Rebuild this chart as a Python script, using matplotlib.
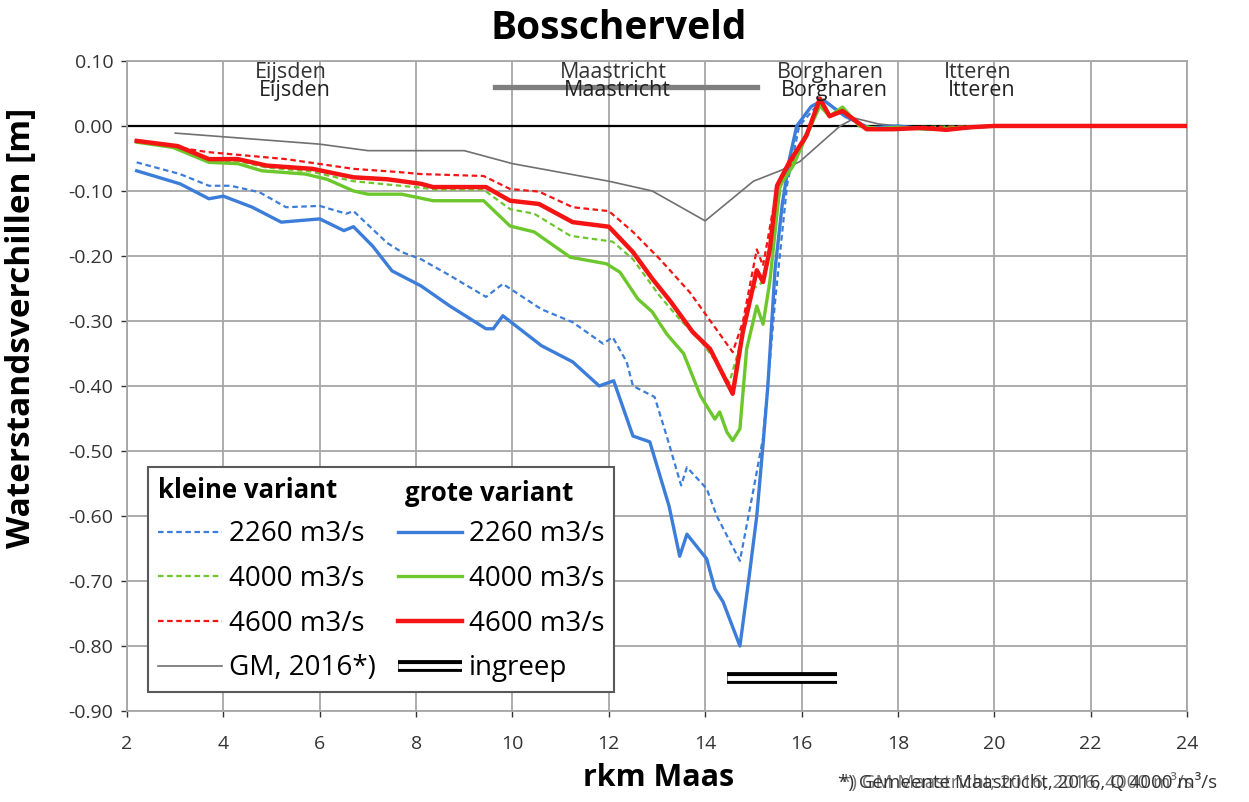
import matplotlib
matplotlib.use("Agg")
import matplotlib.pyplot as plt
import matplotlib.patheffects as pe
from matplotlib.lines import Line2D

plt.rcParams['font.family'] = ['Open Sans', 'DejaVu Sans']

# kleine variant (dashed) / grote variant (solid), rkm Maas vs waterstandsverschil [m]
blue_solid_x = [2.2, 3.1, 3.7, 4.0, 4.6, 5.2, 6.0, 6.5, 6.7, 7.1, 7.5, 8.1, 8.7, 9.45, 9.6, 9.8, 10.6, 11.25,
                11.8, 12.1, 12.5, 12.85, 13.25, 13.47, 13.62, 14.03, 14.2, 14.37, 14.72, 14.9, 15.07, 15.2,
                15.3, 15.45, 15.6, 15.75, 15.9, 16.2, 16.45, 16.9, 17.4, 18.0, 18.6, 19.2, 20.0, 22.0, 24.0]
blue_solid_y = [-0.069, -0.089, -0.112, -0.108, -0.125, -0.148, -0.143, -0.161, -0.155, -0.185, -0.223, -0.246,
                -0.277, -0.312, -0.312, -0.292, -0.338, -0.363, -0.400, -0.392, -0.477, -0.486, -0.585, -0.662,
                -0.628, -0.666, -0.712, -0.732, -0.800, -0.700, -0.600, -0.490, -0.400, -0.220, -0.120, -0.050,
                0.000, 0.030, 0.040, 0.015, -0.003, 0.0, -0.005, -0.004, 0.0, 0.0, 0.0]

blue_dash_x = [2.2, 3.1, 3.7, 4.15, 4.75, 5.3, 6.0, 6.55, 6.7, 7.4, 7.7, 8.1, 8.7, 9.45, 9.8, 10.6, 11.25, 11.88,
               12.08, 12.37, 12.5, 12.95, 13.2, 13.5, 13.62, 14.03, 14.24, 14.72, 15.0, 15.2, 15.45, 15.7, 15.95,
               16.3, 16.5, 16.9, 17.4, 18.0, 18.6, 19.2, 20.0, 24.0]
blue_dash_y = [-0.056, -0.074, -0.092, -0.092, -0.102, -0.125, -0.123, -0.135, -0.131, -0.180, -0.194, -0.205,
               -0.230, -0.263, -0.243, -0.282, -0.302, -0.335, -0.325, -0.363, -0.400, -0.417, -0.477, -0.553,
               -0.525, -0.558, -0.600, -0.669, -0.560, -0.480, -0.270, -0.090, 0.0, 0.030, 0.038, 0.015, -0.003,
               0.0, -0.005, -0.004, 0.0, 0.0]

green_solid_x = [2.2, 2.95, 3.7, 4.3, 4.8, 5.7, 6.15, 6.7, 7.0, 7.7, 8.35, 9.4, 9.95, 10.45, 11.2, 11.95, 12.23,
                 12.6, 12.9, 13.2, 13.55, 13.9, 14.2, 14.3, 14.45, 14.57, 14.72, 14.86, 15.07, 15.2, 15.34, 15.55,
                 15.82, 16.1, 16.38, 16.58, 16.85, 17.2, 17.6, 18.0, 18.6, 19.2, 20.0, 24.0]
green_solid_y = [-0.025, -0.033, -0.056, -0.058, -0.069, -0.074, -0.082, -0.100, -0.105, -0.105, -0.115, -0.115,
                 -0.154, -0.163, -0.202, -0.212, -0.225, -0.266, -0.286, -0.320, -0.350, -0.415, -0.451, -0.440,
                 -0.471, -0.484, -0.466, -0.343, -0.277, -0.305, -0.240, -0.092, -0.062, -0.015, 0.031, 0.015,
                 0.029, 0.0, -0.004, -0.002, -0.005, -0.003, 0.0, 0.0]

green_dash_x = [2.2, 3.0, 3.7, 4.3, 4.9, 5.8, 6.7, 7.4, 8.1, 8.4, 9.4, 9.95, 10.45, 11.2, 12.08, 12.5, 13.06, 13.5,
                13.83, 14.2, 14.5, 14.75, 15.0, 15.2, 15.4, 15.6, 15.85, 16.1, 16.4, 16.6, 16.85, 17.2, 17.6, 18.0,
                20.0, 24.0]
green_dash_y = [-0.025, -0.032, -0.053, -0.054, -0.064, -0.070, -0.085, -0.090, -0.095, -0.098, -0.098, -0.128,
                -0.135, -0.169, -0.178, -0.205, -0.262, -0.300, -0.323, -0.360, -0.395, -0.330, -0.250, -0.240,
                -0.170, -0.080, -0.050, -0.010, 0.035, 0.015, 0.025, 0.0, -0.003, -0.002, 0.0, 0.0]

red_solid_x = [2.2, 3.05, 3.7, 4.3, 4.9, 5.85, 6.7, 7.4, 8.1, 8.35, 9.45, 9.95, 10.55, 11.25, 12.0, 12.5, 12.9,
               13.27, 13.74, 14.1, 14.57, 14.78, 15.07, 15.2, 15.34, 15.49, 15.75, 16.1, 16.38, 16.58, 16.85, 17.35,
               17.9, 18.5, 19.0, 19.5, 20.0, 24.0]
red_solid_y = [-0.023, -0.031, -0.051, -0.051, -0.061, -0.066, -0.079, -0.082, -0.089, -0.094, -0.094, -0.115,
               -0.120, -0.148, -0.155, -0.194, -0.235, -0.269, -0.317, -0.343, -0.412, -0.317, -0.222, -0.240,
               -0.190, -0.092, -0.055, -0.015, 0.042, 0.015, 0.023, -0.005, -0.005, -0.003, -0.006, -0.002, 0.0, 0.0]

red_dash_x = [2.2, 3.65, 5.3, 6.7, 7.65, 8.1, 9.4, 9.95, 10.55, 11.25, 12.0, 12.5, 13.06, 13.68, 14.03, 14.57,
              14.78, 15.07, 15.2, 15.4, 15.6, 15.85, 16.1, 16.4, 16.6, 16.85, 17.3, 17.9, 20.0, 24.0]
red_dash_y = [-0.023, -0.040, -0.051, -0.066, -0.071, -0.074, -0.077, -0.097, -0.101, -0.125, -0.131, -0.163,
              -0.205, -0.256, -0.292, -0.348, -0.302, -0.190, -0.215, -0.132, -0.085, -0.050, -0.012, 0.040, 0.015,
              0.022, -0.003, -0.003, 0.0, 0.0]

gm_x = [3.0, 6.0, 7.0, 9.0, 10.0, 12.0, 12.9, 14.0, 15.0, 15.55, 15.96, 16.8, 17.1, 17.6, 18.0]
gm_y = [-0.011, -0.028, -0.038, -0.038, -0.058, -0.085, -0.100, -0.146, -0.085, -0.069, -0.055, 0.0, 0.012, 0.003, 0.0]

places = ["Eijsden", "Maastricht", "Borgharen", "Itteren"]
place_x = [5.4, 12.1, 16.6, 19.65]
maastricht_bar_x = [9.63, 15.07]
maastricht_bar_y = 0.06
ingreep_x = [14.45, 16.73]
ingreep_y = -0.849

c_blue = "#3c7dd9"
c_green = "#6cc72c"
c_red = "#f51414"

fig = plt.figure(figsize=(12.49, 8.02), dpi=100)
ax = fig.add_axes([0.1017, 0.1135, 0.8487, 0.8105])

ax.set_xlim(2, 24)
ax.set_ylim(-0.9, 0.1)
ax.set_xticks(range(2, 25, 2))
ax.set_yticks([i / 10 for i in range(-9, 2)])
ax.set_yticklabels([f"{v / 10:.2f}" for v in range(-9, 2)])
ax.grid(True, color="#a6a6a6", lw=1.3)
ax.set_axisbelow(True)
for s in ax.spines.values():
    s.set_color("#a6a6a6")
    s.set_linewidth(1.3)
ax.tick_params(axis="both", labelsize=14, colors="#333333", length=4, width=1)
ax.tick_params(axis="x", pad=13)
ax.tick_params(axis="y", pad=6)
ax.axhline(0, color="black", lw=1.6, zorder=2)

dash = (2.5, 1.6)
ax.plot(gm_x, gm_y, color="#707070", lw=1.2, zorder=3)
ax.plot(blue_dash_x, blue_dash_y, color=c_blue, lw=1.6, dashes=dash, zorder=4)
ax.plot(green_dash_x, green_dash_y, color=c_green, lw=1.6, dashes=dash, zorder=4)
ax.plot(red_dash_x, red_dash_y, color=c_red, lw=1.6, dashes=dash, zorder=4)
ax.plot(blue_solid_x, blue_solid_y, color=c_blue, lw=2.4, zorder=5)
ax.plot(green_solid_x, green_solid_y, color=c_green, lw=2.4, zorder=5)
ax.plot(red_solid_x, red_solid_y, color=c_red, lw=3.2, zorder=6)

double = [pe.Stroke(linewidth=8.5, foreground="black", capstyle="butt"),
          pe.Stroke(linewidth=3.5, foreground="white", capstyle="butt")]
ax.plot(ingreep_x, [ingreep_y, ingreep_y], color="white", lw=3.5, path_effects=double, zorder=6)
ax.plot(maastricht_bar_x, [maastricht_bar_y] * 2, color="#7f7f7f", lw=3.8, zorder=6)

for name, px in zip(places, place_x):
    ax.text(px, 0.082, name, ha="center", va="center", fontsize=15.5, color="#333333", zorder=7)
    ax.text(px + 0.08, 0.054, name, ha="center", va="center", fontsize=15.5, color="#222222", zorder=7)

handles = [
    Line2D([], [], color=c_blue, lw=1.6, dashes=dash),
    Line2D([], [], color=c_green, lw=1.6, dashes=dash),
    Line2D([], [], color=c_red, lw=1.6, dashes=dash),
    Line2D([], [], color="#707070", lw=1.2),
    Line2D([], [], color=c_blue, lw=2.4),
    Line2D([], [], color=c_green, lw=2.4),
    Line2D([], [], color=c_red, lw=3.2),
    Line2D([], [], color="white", lw=3.5, path_effects=double),
]
labels = ["2260 m3/s", "4000 m3/s", "4600 m3/s", "GM, 2016*)",
          "2260 m3/s", "4000 m3/s", "4600 m3/s", "ingreep"]
leg = ax.legend(handles, labels, ncol=2, loc="lower left", bbox_to_anchor=(0.02, 0.029),
                fontsize=20, title="kleine variant", alignment="left",
                title_fontproperties={"weight": "bold", "size": 18.5},
                frameon=True, fancybox=False, edgecolor="#595959", framealpha=1,
                handlelength=2.3, handletextpad=0.25, columnspacing=0.8, labelspacing=0.6,
                borderpad=0.35, borderaxespad=0)
leg.get_frame().set_linewidth(1.5)
leg.set_zorder(10)
ax.text(0.262, 0.335, "grote variant", transform=ax.transAxes, fontsize=18.5, fontweight="bold",
        va="center", ha="left", zorder=11)

fig.text(0.495, 0.965, "Bosscherveld", ha="center", va="center", fontsize=28, fontweight="bold")
ax.set_ylabel("Waterstandsverchillen [m]", fontsize=24, fontweight="bold")
ax.yaxis.set_label_coords(-0.084, 0.59)
fig.text(0.527, 0.03, "rkm Maas", ha="center", va="center", fontsize=22, fontweight="bold")
fig.text(0.671, 0.024, "*) Gemeente Maastricht, 2016, Q 4000 m³/s", ha="left", va="center",
         fontsize=13.5, color="#333333")
fig.text(0.673, 0.024, "*) GM Maastricht; 2016, 2016, 4000 m³/s", ha="left", va="center",
         fontsize=13.5, color="#333333", alpha=0.7)

fig.savefig("out.png", dpi=100, facecolor="white")
